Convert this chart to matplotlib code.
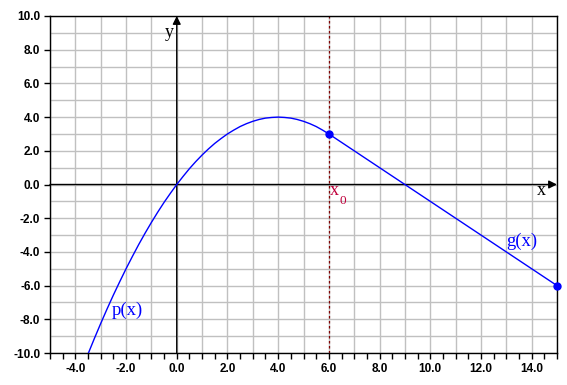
import numpy as np
import matplotlib
matplotlib.use("Agg")
import matplotlib.pyplot as plt

# p(x): parabola part
p_x = [-3.5, -3.25, -3.0, -2.75, -2.5, -2.25, -2.0, -1.75, -1.5, -1.25, -1.0, -0.75, -0.5, -0.25,
       0.0, 0.25, 0.5, 0.75, 1.0, 1.25, 1.5, 1.75, 2.0, 2.25, 2.5, 2.75, 3.0, 3.25, 3.5, 3.75,
       4.0, 4.25, 4.5, 4.75, 5.0, 5.25, 5.5, 5.75, 6.0]
p_y = [-10.06, -9.14, -8.25, -7.39, -6.56, -5.77, -5.0, -4.27, -3.56, -2.89, -2.25, -1.64, -1.06, -0.52,
       0.0, 0.48, 0.94, 1.36, 1.75, 2.11, 2.44, 2.73, 3.0, 3.23, 3.44, 3.61, 3.75, 3.86, 3.94, 3.98,
       4.0, 3.98, 3.94, 3.86, 3.75, 3.61, 3.44, 3.23, 3.0]
# g(x): straight part
g_x = [6.0, 9.0, 15.0]
g_y = [3.0, 0.0, -6.0]
# marked points
pts_x = [6.0, 15.0]
pts_y = [3.0, -6.0]
x0 = 6.0

x_ticks = [-4.0, -2.0, 0.0, 2.0, 4.0, 6.0, 8.0, 10.0, 12.0, 14.0]
y_ticks = [-10.0, -8.0, -6.0, -4.0, -2.0, 0.0, 2.0, 4.0, 6.0, 8.0, 10.0]

fig = plt.figure(figsize=(5.67, 3.85), dpi=100)
ax = fig.add_axes([50 / 567, 32 / 385, 507 / 567, 337 / 385])
ax.set_xlim(-5, 15)
ax.set_ylim(-10, 10)

# grid every unit
for gx in np.arange(-5, 16, 1):
    ax.axvline(gx, color="#c0c0c0", lw=1, zorder=0)
for gy in np.arange(-10, 11, 1):
    ax.axhline(gy, color="#c0c0c0", lw=1, zorder=0)

# axes through the origin with arrows
ax.annotate("", xy=(15, 0), xytext=(-5, 0),
            arrowprops=dict(arrowstyle="-|>", color="black", lw=1, mutation_scale=12,
                            shrinkA=0, shrinkB=0), zorder=2)
ax.annotate("", xy=(0, 10), xytext=(0, -10),
            arrowprops=dict(arrowstyle="-|>", color="black", lw=1, mutation_scale=12,
                            shrinkA=0, shrinkB=0), zorder=2)

ax.axvline(x0, color="#800000", lw=0.9, ls=(0, (2, 2)), zorder=2)

ax.plot(p_x, p_y, color="#0000ff", lw=1, zorder=3)
ax.plot(g_x, g_y, color="#0000ff", lw=1, zorder=3)
ax.plot(pts_x, pts_y, "o", color="#0000ff", ms=5, zorder=4, clip_on=False)

serif = "Liberation Serif"
ax.text(14.4, -0.35, "x", family=serif, fontsize=13, ha="center", va="center")
ax.text(-0.3, 9.05, "y", family=serif, fontsize=13, ha="center", va="center")
ax.text(-1.95, -7.45, "p(x)", family=serif, fontsize=13.5, color="#0000ff", ha="center", va="center")
ax.text(13.6, -3.4, "g(x)", family=serif, fontsize=13.5, color="#0000ff", ha="center", va="center")
ax.text(6.22, -0.38, "x", family=serif, fontsize=13, color="#c0003c", ha="center", va="center")
ax.text(6.55, -0.95, "0", family=serif, fontsize=9.5, color="#c0003c", ha="center", va="center")

ax.set_xticks(x_ticks)
ax.set_xticklabels([f"{v:.1f}" for v in x_ticks])
ax.set_xticks(np.arange(-5, 15.01, 0.5), minor=True)
ax.set_yticks(y_ticks)
ax.set_yticklabels([f"{v:.1f}" for v in y_ticks])
ax.tick_params(axis="both", which="both", direction="out", length=4, width=1, color="black",
               labelsize=8.5)
ax.tick_params(axis="y", which="minor", left=False)
for lab in ax.get_xticklabels() + ax.get_yticklabels():
    lab.set_family("Liberation Sans")
    lab.set_fontweight("bold")
ax.tick_params(axis="x", pad=3)
ax.tick_params(axis="y", pad=3)
for s in ax.spines.values():
    s.set_linewidth(1)
    s.set_color("black")

fig.savefig("out.png", dpi=100)
